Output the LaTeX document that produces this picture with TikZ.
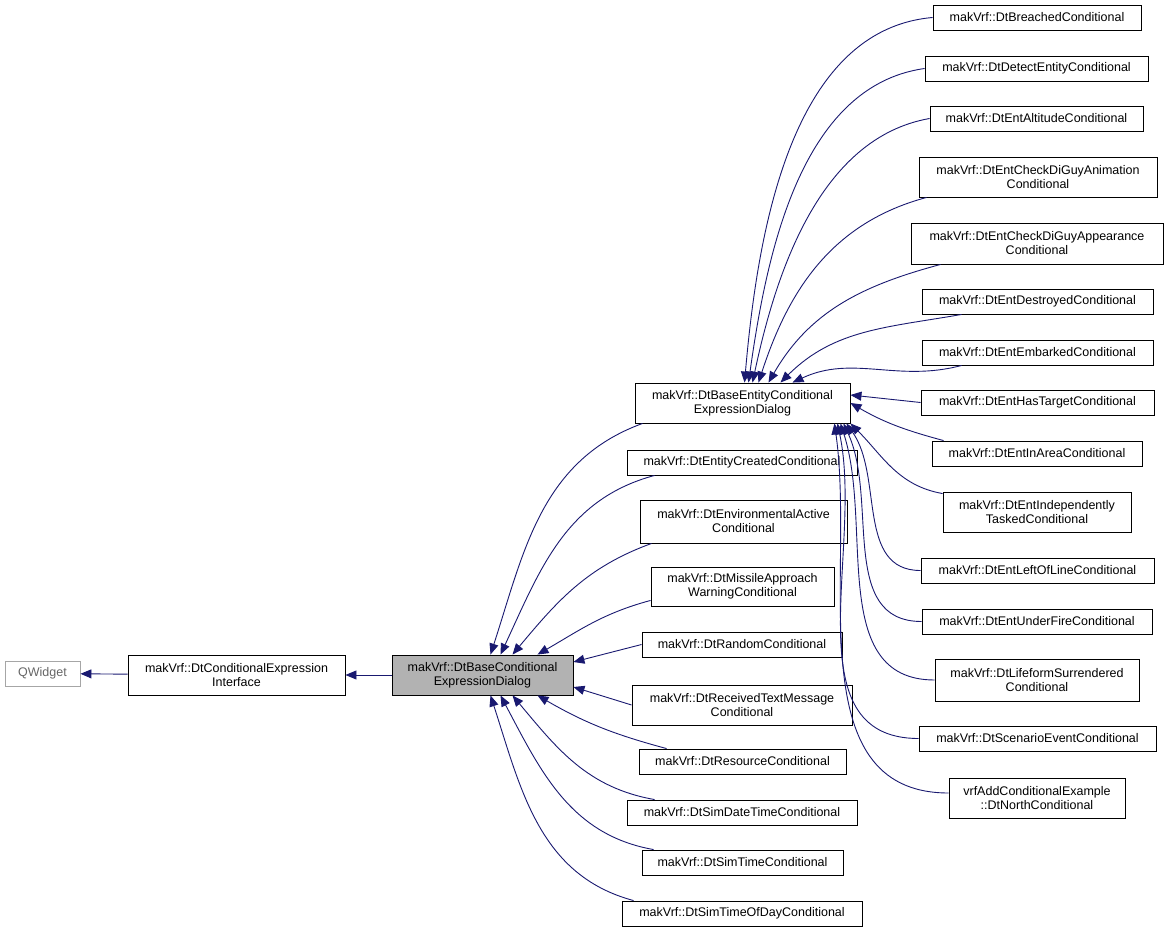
\documentclass[tikz,border=0pt]{standalone}
\usepackage{fontspec}
\setmainfont{Liberation Sans}
\usetikzlibrary{arrows.meta,calc}
\definecolor{navy}{HTML}{191970}
\begin{document}
\begin{tikzpicture}[x=1pt,y=-1pt,
 box/.style={draw=black,line width=0.9pt,fill=white,align=center,inner sep=1pt,font=\fontsize{12.5}{14}\selectfont},
 edge/.style={draw=navy,line width=0.9pt,-{Triangle[width=9pt,length=11pt]}}]
\useasboundingbox (0,0) rectangle (1168,933);
\newcommand\bx[6]{\node[box,minimum width=#4-#2,minimum height=#5-#3,#6] (#1) at ({(#2+#4)/2},{(#3+#5)/2})}
\bx{qw}{5}{661}{80}{686}{draw=gray!70,text=gray!80!black}{QWidget};
\bx{ci}{128}{655}{345}{695}{}{makVrf::DtConditionalExpression\\Interface};
\bx{bd}{392}{655}{573}{695}{fill=gray!60}{makVrf::DtBaseConditional\\ExpressionDialog};
\bx{be}{635}{383}{850}{423}{}{makVrf::DtBaseEntityConditional\\ExpressionDialog};
\bx{m1}{627}{450}{857}{475}{}{makVrf::DtEntityCreatedConditional};
\bx{m2}{640}{500}{847}{543}{}{makVrf::DtEnvironmentalActive\\Conditional};
\bx{m3}{651}{567}{834}{606}{}{makVrf::DtMissileApproach\\WarningConditional};
\bx{m4}{642}{632}{842}{657}{}{makVrf::DtRandomConditional};
\bx{m5}{632}{685}{852}{725}{}{makVrf::DtReceivedTextMessage\\Conditional};
\bx{m6}{639}{749}{846}{774}{}{makVrf::DtResourceConditional};
\bx{m7}{627}{800}{857}{825}{}{makVrf::DtSimDateTimeConditional};
\bx{m8}{642}{850}{843}{875}{}{makVrf::DtSimTimeConditional};
\bx{m9}{622}{901}{862}{926}{}{makVrf::DtSimTimeOfDayConditional};
\bx{r1}{933}{5}{1141}{30}{}{makVrf::DtBreachedConditional};
\bx{r2}{925}{56}{1148}{81}{}{makVrf::DtDetectEntityConditional};
\bx{r3}{930}{106}{1143}{131}{}{makVrf::DtEntAltitudeConditional};
\bx{r4}{919}{157}{1157}{197}{}{makVrf::DtEntCheckDiGuyAnimation\\Conditional};
\bx{r5}{911}{223}{1163}{264}{}{makVrf::DtEntCheckDiGuyAppearance\\Conditional};
\bx{r6}{922}{289}{1153}{314}{}{makVrf::DtEntDestroyedConditional};
\bx{r7}{922}{340}{1153}{365}{}{makVrf::DtEntEmbarkedConditional};
\bx{r8}{921}{390}{1154}{415}{}{makVrf::DtEntHasTargetConditional};
\bx{r9}{932}{441}{1142}{466}{}{makVrf::DtEntInAreaConditional};
\bx{r10}{943}{492}{1131}{532}{}{makVrf::DtEntIndependently\\TaskedConditional};
\bx{r11}{921}{558}{1154}{583}{}{makVrf::DtEntLeftOfLineConditional};
\bx{r12}{922}{609}{1152}{634}{}{makVrf::DtEntUnderFireConditional};
\bx{r13}{935}{659}{1139}{701}{}{makVrf::DtLifeformSurrendered\\Conditional};
\bx{r14}{919}{726}{1156}{751}{}{makVrf::DtScenarioEventConditional};
\bx{r15}{949}{778}{1125}{818}{}{vrfAddConditionalExample\\::DtNorthConditional};
% base chain
\draw[edge] (ci) -- (qw);
\draw[edge] (bd) -- (ci);
% middle column
\draw[edge] ($(be.south west)+(8,0)$) to[out=200,in=72] ($(bd.north)+(8,0)$);
\draw[edge] ($(m1.south west)+(28,0)$) to[out=195,in=65] ($(bd.north)+(18,0)$);
\draw[edge] ($(m2.south west)+(12,0)$) to[out=200,in=50] ($(bd.north)+(30,0)$);
\draw[edge] ($(m3.south west)+(0,-6)$) to[out=195,in=30] ($(bd.north)+(55,0)$);
\draw[edge] (m4.west) -- ($(bd.east)+(0,-13)$);
\draw[edge] (m5.west) -- ($(bd.east)+(0,12)$);
\draw[edge] ($(m6.north west)+(28,0)$) to[out=165,in=-30] ($(bd.south)+(55,0)$);
\draw[edge] ($(m7.north west)+(28,0)$) to[out=170,in=-50] ($(bd.south)+(30,0)$);
\draw[edge] ($(m8.north west)+(12,0)$) to[out=170,in=-62] ($(bd.south)+(18,0)$);
\draw[edge] ($(m9.north west)+(12,0)$) to[out=165,in=-72] ($(bd.south)+(8,0)$);
% right column
\draw[edge] (r1.west) to[out=185,in=85,looseness=0.9] ($(be.north)+(2,0)$);
\draw[edge] (r2.west) to[out=188,in=82,looseness=0.9] ($(be.north)+(6,0)$);
\draw[edge] (r3.west) to[out=190,in=78,looseness=0.9] ($(be.north)+(10,0)$);
\draw[edge] ($(r4.south west)+(8,0)$) to[out=195,in=72] ($(be.north)+(16,0)$);
\draw[edge] ($(r5.south west)+(30,0)$) to[out=195,in=60] ($(be.north)+(26,0)$);
\draw[edge] ($(r6.south west)+(40,0)$) to[out=190,in=45] ($(be.north)+(38,0)$);
\draw[edge] ($(r7.south west)+(40,0)$) to[out=195,in=25] ($(be.north)+(50,0)$);
\draw[edge] (r8.west) -- ($(be.east)+(0,-8)$);
\draw[edge] ($(r9.north west)+(12,0)$) to[out=165,in=-30] (be.east);
\draw[edge] ($(r10.north west)+(0,2)$) to[out=170,in=-45] (be.south east);
\draw[edge] (r11.west) to[out=180,in=-55] ($(be.south east)+(-4,0)$);
\draw[edge] (r12.west) to[out=180,in=-65] ($(be.south east)+(-7,0)$);
\draw[edge] (r13.west) to[out=180,in=-72] ($(be.south east)+(-10,0)$);
\draw[edge] (r14.west) to[out=180,in=-78] ($(be.south east)+(-13,0)$);
\draw[edge] ($(r15.west)+(0,-5)$) to[out=180,in=-82] ($(be.south east)+(-16,0)$);
\end{tikzpicture}
\end{document}
